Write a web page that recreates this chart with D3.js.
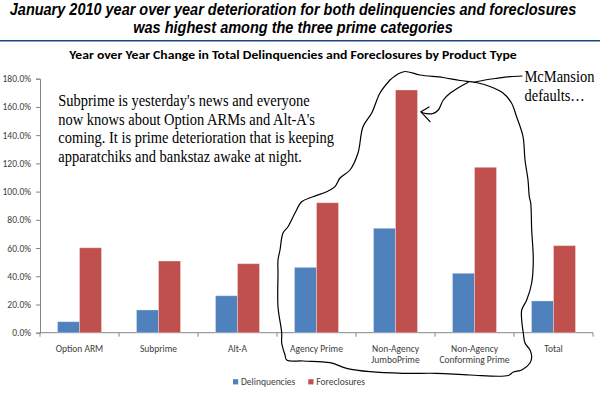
<!DOCTYPE html>
<html><head><meta charset="utf-8">
<script src="https://cdn.jsdelivr.net/npm/d3@7"></script>
<style>
html,body{margin:0;padding:0;background:#fff;}
svg{display:block;}
</style></head>
<body>
<svg id="c" width="600" height="393"></svg>
<script>
// ---- data ----
const categories = ["Option ARM","Subprime","Alt-A","Agency Prime","Non-Agency JumboPrime","Non-Agency Conforming Prime","Total"];
const categoryLines = [["Option ARM"],["Subprime"],["Alt-A"],["Agency Prime"],["Non-Agency","JumboPrime"],["Non-Agency","Conforming Prime"],["Total"]];
const seriesNames = ["Delinquencies","Foreclosures"];
const delinquencies = [7.8, 16.1, 26.2, 46.3, 74.0, 42.1, 22.5];
const foreclosures  = [60.2, 50.8, 48.9, 92.1, 172.0, 117.2, 61.7];
const yTicks = [0,20,40,60,80,100,120,140,160,180];
const titleLines = ["January 2010 year over year deterioration for both delinquencies and foreclosures","was highest among the three prime categories"];
const chartTitle = "Year over Year Change in Total Delinquencies and Foreclosures by Product Type";
const noteLines = ["Subprime is yesterday's news and everyone","now knows about Option ARMs and Alt-A's","coming. It is prime deterioration that is keeping","apparatchiks and bankstaz awake at night."];
const calloutLines = ["McMansion","defaults…"];
// hand-drawn annotation strokes (pixel coords of the doodle)
const lasso = [[390,80],[398,74],[405,71.5],[420,75],[443,77.5],[460,80.5],[476,82.5],[490,86.5],[503,93],[511.5,103],[516.5,116.5],[523,136.5],[525,160],[528,180],[529.3,196.7],[530.7,203],[531.7,230],[533.3,260],[531.7,283],[526.7,300],[521.7,310],[521.7,320],[523.3,333],[525,343],[530,350],[531.7,357],[530,363],[521.7,370],[513.3,372],[508.3,375.5],[470,375],[436.7,373.3],[403.3,373.3],[370,371.7],[346.7,368.3],[330,362.7],[303.3,361],[286.7,360],[285,355],[281.7,343],[281.7,333],[278,306.7],[278,273],[278,260],[280,250],[283,233],[288,226.7],[295,213],[301.7,201.7],[313,196.7],[326.7,191.7],[335,186.7],[340,178],[350,170],[358,153],[363,126.7],[371.7,113],[380,93],[390,80]];
const pointer = [[474,82.3],[485,80],[496.7,78.3],[510,76.7],[522,76]];
const arrowShaft = [[468,82.5],[460,86.7],[450,93.3],[443.3,100],[438.3,110],[433.3,113.3],[423.3,113],[421,111.8]];
const arrowHead = [[429,107],[421,111.8],[430,121.7]];

// ---- layout ----
const svg = d3.select("#c");
const plot = {left:40, right:593, top:78.7, bottom:332.7};
const colors = {Delinquencies:"#4F81BD", Foreclosures:"#C0504D"};
const axisColor = "#868686";
const labelFont = "Carlito, Calibri, Lato, sans-serif";

const x0 = d3.scaleBand().domain(categories).range([plot.left, plot.right]).padding(0);
const x1 = d3.scaleBand().domain(seriesNames).range([0, x0.bandwidth()]).paddingInner(0).paddingOuter(0.795);
const y = d3.scaleLinear().domain([0,180]).range([plot.bottom, plot.top]);

// titles (the source image is horizontally condensed; fit measured widths)
const tt = svg.append("g").selectAll("text").data(titleLines).join("text")
  .attr("text-anchor","middle")
  .style("font-family","'Liberation Sans', Arial, sans-serif")
  .style("font-weight","bold").style("font-style","italic")
  .style("font-size","16px").attr("fill","#000").text(d=>d);
const k1 = 567 / tt.nodes()[0].getComputedTextLength();
tt.attr("transform",(d,i)=>`translate(293,${15+i*17.5}) scale(${k1},1)`);

svg.append("line").attr("x1",0).attr("x2",600).attr("y1",40.7).attr("y2",40.7)
  .attr("stroke","#1F497D").attr("stroke-width",1.6);
const ct = svg.append("text").attr("text-anchor","middle")
  .style("font-family",labelFont).style("font-weight","bold").style("font-size","12px")
  .attr("fill","#000").text(chartTitle);
const k2 = 448 / ct.node().getComputedTextLength();
ct.attr("transform",`translate(293,58.7) scale(${k2},1)`);

// y axis
const yAxis = svg.append("g").attr("transform",`translate(${plot.left},0)`)
  .call(d3.axisLeft(y).tickValues(yTicks).tickSize(4).tickPadding(5).tickFormat(d=>d3.format(".1f")(d)+"%"));
yAxis.select(".domain").attr("stroke",axisColor);
yAxis.selectAll(".tick line").attr("stroke",axisColor);
yAxis.selectAll(".tick text").attr("fill","#404040").style("font-family",labelFont).style("font-size","9.5px");

// x axis
const xAxis = svg.append("g").attr("transform",`translate(0,${plot.bottom})`);
xAxis.append("line").attr("x1",plot.left).attr("x2",plot.right).attr("stroke",axisColor);
const bounds = categories.map(c=>x0(c)).concat([x0(categories[categories.length-1])+x0.bandwidth()]);
xAxis.selectAll("line.tk").data(bounds).join("line").attr("class","tk")
  .attr("x1",d=>d).attr("x2",d=>d).attr("y1",0).attr("y2",4).attr("stroke",axisColor);
categories.forEach((c,i)=>{
  categoryLines[i].forEach((ln,j)=>{
    xAxis.append("text").attr("x",x0(c)+x0.bandwidth()/2).attr("y",19+j*11.2)
      .attr("text-anchor","middle").style("font-family",labelFont).style("font-size","9.5px")
      .attr("fill","#404040").text(ln);
  });
});

// bars
const rows = categories.map((c,i)=>({cat:c, vals:[{s:"Delinquencies",v:delinquencies[i]},{s:"Foreclosures",v:foreclosures[i]}]}));
svg.append("g").selectAll("g").data(rows).join("g")
  .attr("transform",d=>`translate(${x0(d.cat)},0)`)
  .selectAll("rect").data(d=>d.vals).join("rect")
  .attr("x",d=>x1(d.s)).attr("width",x1.bandwidth())
  .attr("y",d=>y(d.v)).attr("height",d=>y(0)-y(d.v))
  .attr("fill",d=>colors[d.s])
  .attr("stroke","#fff").attr("stroke-opacity",0.3).attr("stroke-width",1);

// legend
const leg = svg.append("g");
const legPos = [{s:"Delinquencies",x:233},{s:"Foreclosures",x:308.3}];
legPos.forEach(p=>{
  leg.append("rect").attr("x",p.x).attr("y",379.2).attr("width",5.2).attr("height",5.2).attr("fill",colors[p.s]);
  leg.append("text").attr("x",p.x+8).attr("y",385).style("font-family",labelFont).style("font-size","9.5px")
    .attr("fill","#404040").text(p.s);
});

// annotations
const serif = "'Liberation Serif','Times New Roman',serif";
const kS = 0.905;
svg.append("g").selectAll("text").data(noteLines).join("text")
  .attr("transform",(d,i)=>`translate(58.3,${105.7+i*18.85}) scale(${kS},1)`)
  .style("font-family",serif).style("font-size","16px").attr("fill","#000").text(d=>d);
svg.append("g").selectAll("text").data(calloutLines).join("text")
  .attr("transform",(d,i)=>`translate(524.5,${81.5+i*19}) scale(${kS},1)`)
  .style("font-family",serif).style("font-size","16px").attr("fill","#000").text(d=>d);

const line = d3.line().curve(d3.curveCatmullRom.alpha(0.5));
const doodle = svg.append("g").attr("fill","none").attr("stroke","#000").attr("stroke-width",1.2).attr("stroke-linejoin","round").attr("stroke-linecap","round");
doodle.append("path").attr("d",line(lasso));
doodle.append("path").attr("d",line(pointer));
doodle.append("path").attr("d",line(arrowShaft));
doodle.append("path").attr("d",d3.line()(arrowHead));
</script>
</body></html>
